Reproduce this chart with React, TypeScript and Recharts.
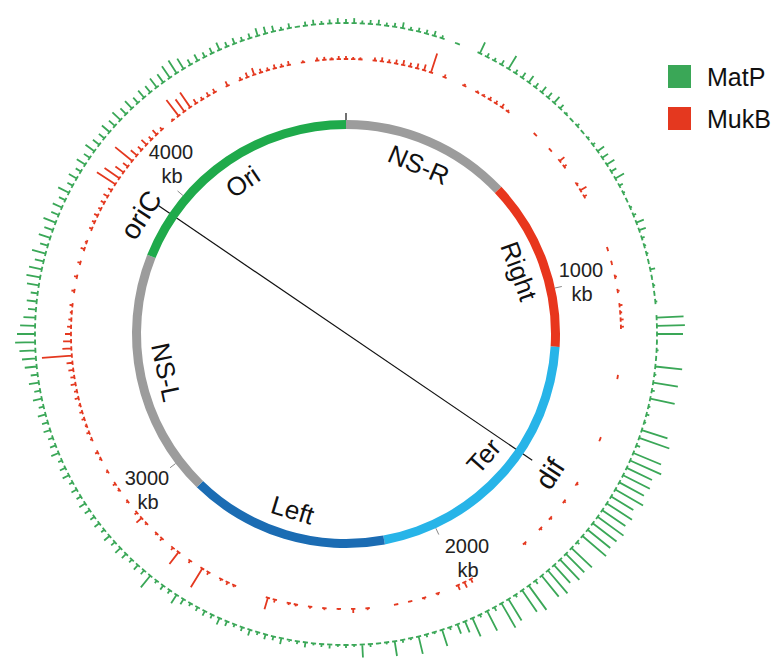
import React from "react";
import {
  Cell,
  Customized,
  Pie,
  PieChart,
  PolarAngleAxis,
  PolarRadiusAxis,
  Radar,
  RadarChart,
} from "recharts";

const W = 783;
const H = 663;
const CX = 346;
const CY = 334;
const GENOME_KB = 4640;
const FONT = '"Liberation Sans", Arial, Helvetica, sans-serif';
const NO_MARGIN = { top: 0, right: 0, bottom: 0, left: 0 };

// Macrodomains, clockwise from position 0 (top of the circle)
const domainNames = ["NS-R", "Right", "Ter", "Left", "NS-L", "Ori"];
const domainKb = [600, 605, 980, 705, 870, 880];
const domainColors = ["#9c9c9c", "#e8361d", "#27b4e8", "#1b6cb3", "#9c9c9c", "#1faa4b"];

const scaleTicksKb = [1000, 2000, 3000, 4000];
const scaleTickLabels = ["1000", "2000", "3000", "4000"];
const ORIC_KB = 3923;
const DIF_KB = 1600;

// ChIP signal in 240 bins (~19.3 kb each), clockwise from position 0
const matpSignal = [
  4, 5, 3, 4, 5, 3, 4, 6, 3, 4,
  4, 5, 3, 0, 1, 0, 0, 12, 4, 3,
  5, 15, 4, 6, 8, 5, 7, 6, 8, 5,
  2, 1, 3, 1, 2, 3, 8, 7, 9, 6,
  10, 4, 2, 1, 2, 3, 8, 7, 3, 2,
  2, 1, 5, 1, 2, 1, 2, 0, 27, 28,
  26, 1, 2, 1, 27, 2, 25, 3, 25, 2,
  3, 2, 27, 32, 4, 30, 34, 28, 30, 28,
  32, 26, 30, 28, 32, 30, 29, 31, 3, 28,
  26, 28, 24, 30, 27, 4, 30, 26, 3, 25,
  28, 4, 22, 3, 20, 12, 10, 3, 17, 2,
  3, 18, 2, 3, 15, 2, 1, 3, 13, 2,
  3, 2, 4, 3, 2, 5, 3, 2, 6, 4,
  5, 3, 6, 4, 3, 5, 7, 4, 5, 4,
  3, 6, 10, 4, 5, 3, 15, 5, 6, 4,
  6, 7, 5, 7, 4, 6, 5, 6, 7, 5,
  6, 4, 7, 6, 4, 8, 6, 5, 7, 6,
  8, 5, 9, 6, 10, 7, 12, 14, 16, 20,
  18, 15, 12, 8, 10, 7, 12, 14, 13, 9,
  14, 8, 12, 9, 13, 8, 10, 7, 12, 6,
  9, 6, 10, 7, 11, 8, 7, 10, 8, 11,
  8, 10, 7, 9, 8, 11, 10, 14, 15, 12,
  6, 7, 5, 6, 8, 5, 6, 4, 5, 8,
  7, 6, 3, 5, 1, 4, 5, 3, 4, 5,
];

const mukbSignal = [
  3, 2, 2, 0, 3, 4, 3, 4, 5, 4,
  5, 6, 20, 0, 3, 0, 0, 2, 0, 2,
  2, 3, 3, 4, 2, 0, 0, 0, 0, 1,
  0, 0, 1, 0, 6, 3, 0, 0, 2, 7,
  3, 0, 0, 0, 0, 0, 0, 0, 1, 0,
  1, 0, 2, 0, 2, 0, 3, 2, 3, 3,
  0, 0, 0, 0, 0, 0, 1, 0, 0, 0,
  0, 0, 0, 0, 0, 1, 0, 0, 0, 0,
  0, 0, 2, 0, 0, 2, 0, 0, 2, 0,
  2, 0, 0, 2, 0, 0, 0, 0, 0, 0,
  0, 0, 4, 6, 5, 0, 0, 2, 0, 2,
  0, 1, 0, 1, 0, 0, 0, 2, 0, 4,
  0, 1, 0, 2, 0, 2, 0, 2, 2, 0,
  3, 12, 0, 0, 0, 0, 2, 3, 2, 0,
  3, 22, 0, 3, 0, 15, 3, 0, 3, 2,
  0, 2, 7, 3, 0, 2, 0, 2, 3, 0,
  2, 0, 2, 3, 0, 2, 3, 2, 3, 3,
  2, 4, 3, 5, 4, 5, 6, 30, 9, 8,
  6, 4, 3, 2, 3, 0, 3, 0, 3, 0,
  3, 0, 4, 2, 0, 3, 3, 4, 3, 4,
  5, 4, 22, 18, 10, 6, 22, 8, 5, 7,
  4, 6, 3, 0, 2, 20, 15, 18, 5, 3,
  4, 4, 0, 5, 0, 3, 5, 7, 4, 3,
  4, 3, 4, 0, 2, 0, 3, 3, 2, 3,
];

const SIGNAL_MAX = 40;
const MATP_BASE = 311;
const MUKB_BASE = 275;
const MATP_COLOR = "#3aa757";
const MUKB_COLOR = "#e4381f";

const domainData = domainNames.map((name, i) => ({ name, kb: domainKb[i] }));
const matpData = matpSignal.map((signal, bin) => ({ bin, signal }));
const mukbData = mukbSignal.map((signal, bin) => ({ bin, signal }));

// label centres for the scale ticks ("kb" is drawn below)
const tickLabelPos = [
  [581, 270],
  [467, 546],
  [147, 478],
  [171, 152],
];

const RAD = Math.PI / 180;
const kbToAngle = (kb: number) => 90 - (kb / GENOME_KB) * 360;
const polar = (cx: number, cy: number, r: number, angle: number) => ({
  x: cx + r * Math.cos(-angle * RAD),
  y: cy + r * Math.sin(-angle * RAD),
});

// each radar point becomes a histogram-like spike: a short cap on the
// track baseline plus a radial line out to the point
function spikeDot(color: string, base: number, cap: number) {
  return (props: any) => {
    const key = `spike-${props.index}`;
    const px = Number(props.cx);
    const py = Number(props.cy);
    const dx = px - CX;
    const dy = py - CY;
    const r = Math.hypot(dx, dy);
    if (!isFinite(r) || r - base < 0.5) return <g key={key} />;
    const ux = dx / r;
    const uy = dy / r;
    const bx = CX + ux * base;
    const by = CY + uy * base;
    const d =
      `M${bx - uy * cap},${by + ux * cap}L${bx + uy * cap},${by - ux * cap}` +
      `M${bx},${by}L${px},${py}`;
    return <path key={key} d={d} stroke={color} strokeWidth={1.8} fill="none" />;
  };
}

function Track({ data, color, base, cap }: { data: any[]; color: string; base: number; cap: number }) {
  return (
    <RadarChart
      width={W}
      height={H}
      cx={CX}
      cy={CY}
      innerRadius={base}
      outerRadius={base + SIGNAL_MAX}
      startAngle={90}
      endAngle={-270}
      data={data}
      margin={NO_MARGIN}
    >
      <PolarAngleAxis dataKey="bin" tick={false} tickLine={false} axisLine={false} />
      <PolarRadiusAxis domain={[0, SIGNAL_MAX]} tick={false} axisLine={false} />
      <Radar
        dataKey="signal"
        stroke="none"
        fill="none"
        dot={spikeDot(color, base, cap)}
        isAnimationActive={false}
      />
    </RadarChart>
  );
}

function renderDomainLabel(props: any) {
  const { cx, cy, midAngle, index } = props;
  const { x, y } = polar(cx, cy, 184, midAngle);
  const theta = (((90 - midAngle) % 360) + 360) % 360;
  const rot = theta > 90 && theta < 270 ? theta - 180 : theta;
  return (
    <text
      key={`dl-${index}`}
      x={x}
      y={y}
      textAnchor="middle"
      dominantBaseline="central"
      transform={`rotate(${rot} ${x} ${y})`}
      fontSize={26}
      fontFamily={FONT}
      fill="#111"
    >
      {domainNames[index]}
    </text>
  );
}

function Annotations() {
  const zero = kbToAngle(0);
  const t0 = polar(CX, CY, 206, zero);
  const t1 = polar(CX, CY, 221, zero);
  const ori = polar(CX, CY, 227, kbToAngle(ORIC_KB));
  const dif = polar(CX, CY, 225, kbToAngle(DIF_KB));
  return (
    <g fontFamily={FONT}>
      <line x1={t0.x} y1={t0.y} x2={t1.x} y2={t1.y} stroke="#111" strokeWidth={1.2} />
      {scaleTicksKb.map((kb, i) => {
        const a = polar(CX, CY, 214, kbToAngle(kb));
        const b = polar(CX, CY, 221, kbToAngle(kb));
        const [lx, ly] = tickLabelPos[i];
        return (
          <g key={kb}>
            <line x1={a.x} y1={a.y} x2={b.x} y2={b.y} stroke="#888" strokeWidth={1} />
            <text x={lx} y={ly} textAnchor="middle" dominantBaseline="central" fontSize={20} fill="#222">
              {scaleTickLabels[i]}
            </text>
            <text x={lx + 1} y={ly + 24} textAnchor="middle" dominantBaseline="central" fontSize={20} fill="#222">
              kb
            </text>
          </g>
        );
      })}
      <line x1={ori.x} y1={ori.y} x2={dif.x} y2={dif.y} stroke="#111" strokeWidth={1.2} />
      <text x={141} y={215} textAnchor="middle" dominantBaseline="central" fontSize={28} fill="#111" transform="rotate(-57 141 215)">
        oriC
      </text>
      <text x={550} y={474} textAnchor="middle" dominantBaseline="central" fontSize={28} fill="#111" transform="rotate(-57 550 474)">
        dif
      </text>
      <rect x={668} y={65} width={23} height={23} fill={MATP_COLOR} />
      <text x={707} y={77} dominantBaseline="central" fontSize={25} fill="#111">
        MatP
      </text>
      <rect x={668} y={107} width={23} height={23} fill={MUKB_COLOR} />
      <text x={707} y={119} dominantBaseline="central" fontSize={25} fill="#111">
        MukB
      </text>
    </g>
  );
}

export default function App() {
  const layer: React.CSSProperties = { position: "absolute", left: 0, top: 0 };
  return (
    <div style={{ position: "absolute", left: 0, top: 0, width: W, height: H, background: "#fff", overflow: "hidden" }}>
      <div style={layer}>
        <PieChart width={W} height={H} margin={NO_MARGIN}>
          <Pie
            data={domainData}
            dataKey="kb"
            nameKey="name"
            cx={CX}
            cy={CY}
            innerRadius={205}
            outerRadius={214}
            startAngle={90}
            endAngle={-270}
            stroke="none"
            label={renderDomainLabel}
            labelLine={false}
            isAnimationActive={false}
          >
            {domainData.map((d, i) => (
              <Cell key={d.name + i} fill={domainColors[i]} />
            ))}
          </Pie>
          <Customized component={Annotations} />
        </PieChart>
      </div>
      <div style={layer}>
        <Track data={mukbData} color={MUKB_COLOR} base={MUKB_BASE} cap={2.2} />
      </div>
      <div style={layer}>
        <Track data={matpData} color={MATP_COLOR} base={MATP_BASE} cap={2.6} />
      </div>
    </div>
  );
}
